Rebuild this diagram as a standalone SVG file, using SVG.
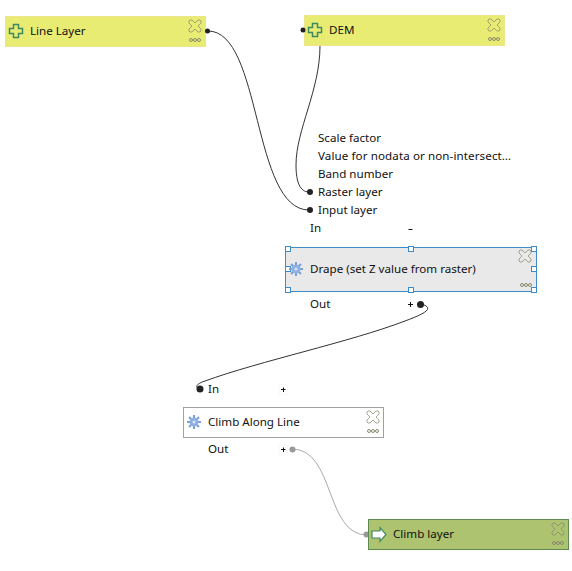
<svg xmlns="http://www.w3.org/2000/svg" width="572" height="571" viewBox="0 0 572 571">
<defs>
<style>
text{font-family:"Noto Sans","Open Sans","Liberation Sans",sans-serif;font-size:11.6px;fill:#111}
.box{stroke-width:1}
.wire{fill:none;stroke:#333;stroke-width:1}
.wireg{fill:none;stroke:#aaa;stroke-width:1}
.dot{fill:#222}
.btn{fill:#fff;stroke:#eee;stroke-width:.5}
.sign{stroke:#111;stroke-width:1;fill:none}
.sel{fill:#fff;stroke:#3d8bc9;stroke-width:1}
</style>
<g id="closeIcon"><path d="M-5-6-3-6 0-3 3-6 5-6 6-5 6-3 3 0 6 3 6 5 5 6 3 6 0 3-3 6-5 6-6 5-6 3-3 0-6-3-6-5Z" fill="none" stroke="#8a8a70" stroke-width="1" opacity=".75"/></g>
<g id="moreIcon" fill="none" stroke="#8a8a70" stroke-width="1"><circle cx="-4" cy="0" r="1.500"/><circle cx="0" cy="0" r="1.500"/><circle cx="4" cy="0" r="1.500"/></g>
<g id="plusIcon"><path d="M-2.500-6.500H2.500V-2.500H6.500V2.500H2.500V6.500H-2.500V2.500H-6.500V-2.500H-2.500Z" fill="none" stroke="#3f8a63" stroke-width="1.500"/></g>
<g id="gearIcon"><g stroke="#7b9fd6" stroke-width="2"><path d="M0-7V7M-7 0H7M-5-5 5 5M-5 5 5-5"/></g><circle r="4.500" fill="#8fb0e2"/><circle r="1.500" fill="#d8e4f5"/></g>
</defs>
<rect width="572" height="571" fill="#fff"/>
<g id="connectors">
<path class="wire" d="M208 31C262 31 252 210 309 210"/>
<path class="wire" d="M320 46C320 90 296 130 296 165C296 182 300 192 309 192"/>
<path class="wire" d="M421 304C436 308 424 314 405 321C350 342 260 361 205 381C196 384 195 387 199 389"/>
<path class="wireg" d="M292 449C335 449 325 535 367 535"/>
</g>
<g id="line-layer">
<rect class="box" x="5.500" y="16.500" width="200" height="30" fill="#e8ec72" stroke="#ece58a"/>
<use href="#plusIcon" x="16" y="31"/>
<text x="30" y="35">Line Layer</text>
<use href="#closeIcon" x="195" y="26"/>
<use href="#moreIcon" x="195" y="40"/>
<circle class="dot" cx="207.500" cy="31" r="2.500"/>
</g>
<g id="dem">
<rect class="box" x="304.500" y="15.500" width="200" height="30" fill="#e8ec72" stroke="#ece58a"/>
<use href="#plusIcon" x="315" y="30"/>
<text x="329" y="34">DEM</text>
<use href="#closeIcon" x="494" y="25"/>
<use href="#moreIcon" x="494" y="39"/>
<circle class="dot" cx="303" cy="30" r="2.500"/>
</g>
<g id="drape">
<text x="318" y="142">Scale factor</text>
<text x="318" y="160" textLength="193">Value for nodata or non-intersect…</text>
<text x="318" y="178">Band number</text>
<text x="318" y="196">Raster layer</text>
<text x="318" y="214">Input layer</text>
<circle class="dot" cx="310" cy="192" r="3"/>
<circle class="dot" cx="310" cy="210" r="3"/>
<text x="310" y="232">In</text>
<path class="sign" d="M408.500 229.500H412.500"/>
<rect x="285.500" y="247.500" width="251" height="44" fill="#e9e9e9" stroke="#3d8bc9"/>
<g class="sel-handles">
<rect class="sel" x="285.500" y="246.500" width="5" height="5"/><rect class="sel" x="408.500" y="246.500" width="5" height="5"/><rect class="sel" x="531.500" y="246.500" width="5" height="5"/>
<rect class="sel" x="285.500" y="266.500" width="5" height="5"/><rect class="sel" x="531.500" y="266.500" width="5" height="5"/>
<rect class="sel" x="285.500" y="287.500" width="5" height="5"/><rect class="sel" x="408.500" y="287.500" width="5" height="5"/><rect class="sel" x="531.500" y="287.500" width="5" height="5"/>
</g>
<use href="#gearIcon" x="296" y="269"/>
<text x="310" y="273">Drape (set Z value from raster)</text>
<use href="#closeIcon" x="525" y="256"/>
<use href="#moreIcon" x="526" y="285"/>
<text x="310" y="308">Out</text>
<path class="sign" d="M408 304.500H413M410.500 302V307"/>
<circle class="dot" cx="420.500" cy="304.500" r="3.500"/>
</g>
<g id="climb-along-line">
<circle class="dot" cx="200" cy="389" r="3.500"/>
<text x="208" y="393">In</text>
<rect class="btn" x="279" y="385" width="8" height="9"/>
<path class="sign" d="M281 389.500H285.500M283.500 387.500V392"/>
<rect class="box" x="183.500" y="407.500" width="200" height="30" fill="#fff" stroke="#a0a0a0"/>
<use href="#gearIcon" x="194" y="422"/>
<text x="208" y="426">Climb Along Line</text>
<use href="#closeIcon" x="373" y="417"/>
<use href="#moreIcon" x="373" y="431"/>
<text x="208" y="453">Out</text>
<rect class="btn" x="279" y="445" width="8" height="9"/>
<path class="sign" d="M281 449.500H285.500M283.500 447.500V452"/>
<circle cx="292.500" cy="449.500" r="3" fill="#999"/>
</g>
<g id="climb-layer">
<circle cx="366.500" cy="534.500" r="3" fill="#999"/>
<rect class="box" x="368.500" y="519.500" width="200" height="30" fill="#adc36f" stroke="#5c8a50"/>
<path d="M372 531H380V527.500L386 534.500 380 541.500V538H372Z" fill="#fff" stroke="#3f8a63" stroke-width="1.200"/>
<text x="393" y="538">Climb layer</text>
<use href="#closeIcon" x="558" y="529"/>
<use href="#moreIcon" x="558" y="543"/>
</g>
</svg>
